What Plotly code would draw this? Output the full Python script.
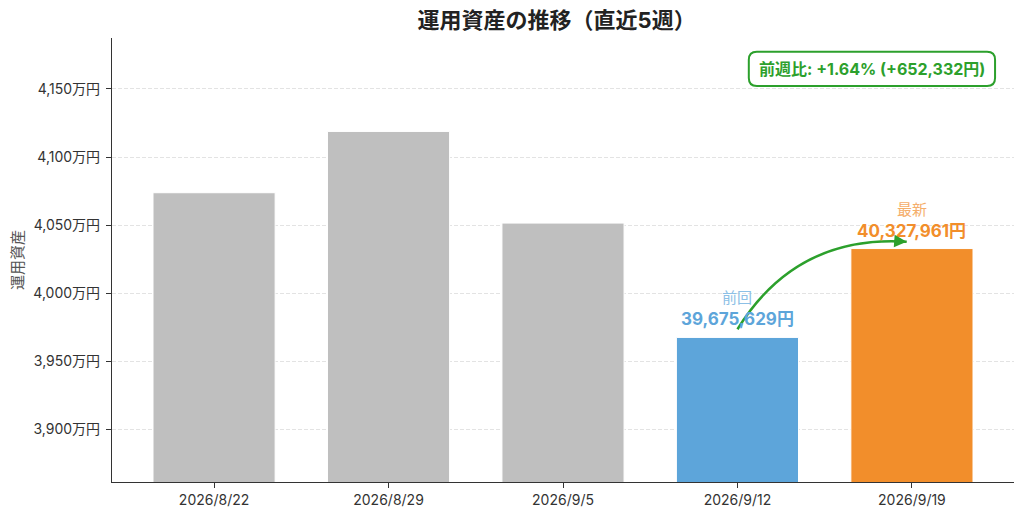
import plotly.graph_objects as go

# 週次の運用資産（円）
dates = ['2026/8/22', '2026/8/29', '2026/9/5', '2026/9/12', '2026/9/19']
values = [40738000, 41188000, 40515000, 39675629, 40327961]
bar_colors = ['#bfbfbf', '#bfbfbf', '#bfbfbf', '#5da5da', '#f28e2b']
y_ticks = [39000000, 39500000, 40000000, 40500000, 41000000, 41500000]
y_tick_labels = ['3,900万円', '3,950万円', '4,000万円', '4,050万円', '4,100万円', '4,150万円']

prev_val = values[-2]
last_val = values[-1]
diff = last_val - prev_val
pct = diff / prev_val * 100

FONT = 'Inter, Noto Sans CJK JP'
GREEN = '#2ca02c'
x_idx = list(range(len(dates)))

# ページ余白(8px)を考慮したサイズ
W, H = 1016, 510
ML, MR, MT, MB = 104, 10, 30, 36
PW, PH = W - ML - MR, H - MT - MB

fig = go.Figure()
fig.add_trace(go.Bar(
    x=x_idx, y=values, width=0.7,
    marker=dict(color=bar_colors, line=dict(color='white', width=1)),
    hoverinfo='skip',
))

y_min, y_max = 38614000, 41874000
x_min, x_max = -0.585, 4.585

# 前回 / 最新 ラベル
for i, name, col, col_light in [(3, '前回', '#5da5da', '#8cc0e6'), (4, '最新', '#f28e2b', '#f5ae6b')]:
    fig.add_annotation(x=i, y=values[i], yanchor='bottom', yshift=6, showarrow=False,
                       text=f'<b>{values[i]:,}円</b>', font=dict(family=FONT, size=17, color=col))
    fig.add_annotation(x=i, y=values[i], yanchor='bottom', yshift=28, showarrow=False,
                       text=name, font=dict(family=FONT, size=15, color=col_light))

# 曲線矢印 (arc3, rad=-0.3 相当)
px_x = PW / (x_max - x_min)
px_y = PH / (y_max - y_min)
sx, sy = 3.0, prev_val + 60000
ex, ey = 3.97, last_val + 50000
dxp, dyp = (ex - sx) * px_x, (ey - sy) * px_y
rad = -0.3
cx = (sx + ex) / 2 + rad * dyp / px_x
cy = (sy + ey) / 2 - rad * dxp / px_y
fig.add_shape(type='path', xref='x', yref='y',
              path=f'M {sx},{sy} Q {cx},{cy} {ex},{ey}',
              line=dict(color=GREEN, width=2.5))
tx, ty = (ex - cx) * px_x, (ey - cy) * px_y
norm = (tx ** 2 + ty ** 2) ** 0.5
fig.add_annotation(x=ex, y=ey, ax=-14 * tx / norm, ay=14 * ty / norm, axref='pixel', ayref='pixel',
                   text='', showarrow=True, arrowhead=2, arrowsize=1, arrowwidth=2.5, arrowcolor=GREEN)

# 前週比ボックス（角丸）
bx0, bx1, by0, by1 = 0.706, 0.979, 0.892, 0.969
rx, ry = 8 / PW, 8 / PH
box = (f'M {bx0 + rx},{by0} L {bx1 - rx},{by0} Q {bx1},{by0} {bx1},{by0 + ry} '
       f'L {bx1},{by1 - ry} Q {bx1},{by1} {bx1 - rx},{by1} L {bx0 + rx},{by1} '
       f'Q {bx0},{by1} {bx0},{by1 - ry} L {bx0},{by0 + ry} Q {bx0},{by0} {bx0 + rx},{by0} Z')
fig.add_shape(type='path', xref='paper', yref='paper', path=box,
              line=dict(color=GREEN, width=2), fillcolor='white')
fig.add_annotation(xref='paper', yref='paper', x=(bx0 + bx1) / 2, y=(by0 + by1) / 2,
                   xanchor='center', yanchor='middle', showarrow=False,
                   text=f'<b>前週比: +{pct:.2f}% (+{diff:,}円)</b>',
                   font=dict(family=FONT, size=16, color=GREEN))

fig.update_layout(
    width=W, height=H,
    margin=dict(l=ML, r=MR, t=MT, b=MB),
    plot_bgcolor='white', paper_bgcolor='white',
    showlegend=False,
    font=dict(family=FONT, color='#333333'),
    title=dict(text='<b>運用資産の推移（直近5週）</b>', x=0.54, xanchor='center', y=0.975, yanchor='middle',
               font=dict(family=FONT, size=22, color='#222222')),
    xaxis=dict(
        range=[x_min, x_max], tickmode='array', tickvals=x_idx, ticktext=dates,
        showline=True, linecolor='#333333', linewidth=1.2,
        ticks='outside', ticklen=5, tickcolor='#333333',
        tickfont=dict(family=FONT, size=14, color='#333333'),
        showgrid=False, zeroline=False, automargin=False,
    ),
    yaxis=dict(
        range=[y_min, y_max], tickmode='array', tickvals=y_ticks, ticktext=y_tick_labels,
        showline=True, linecolor='#333333', linewidth=1.2,
        ticks='outside', ticklen=5, tickcolor='#333333', ticklabelstandoff=3,
        tickfont=dict(family=FONT, size=14, color='#333333'),
        showgrid=True, gridcolor='rgba(220,220,220,0.8)', griddash='4px,2px', gridwidth=1,
        zeroline=False, layer='above traces', automargin=False,
        title=dict(text='運用資産', font=dict(family=FONT, size=15, color='#555555'), standoff=7),
    ),
)

fig.write_html('out.html')
